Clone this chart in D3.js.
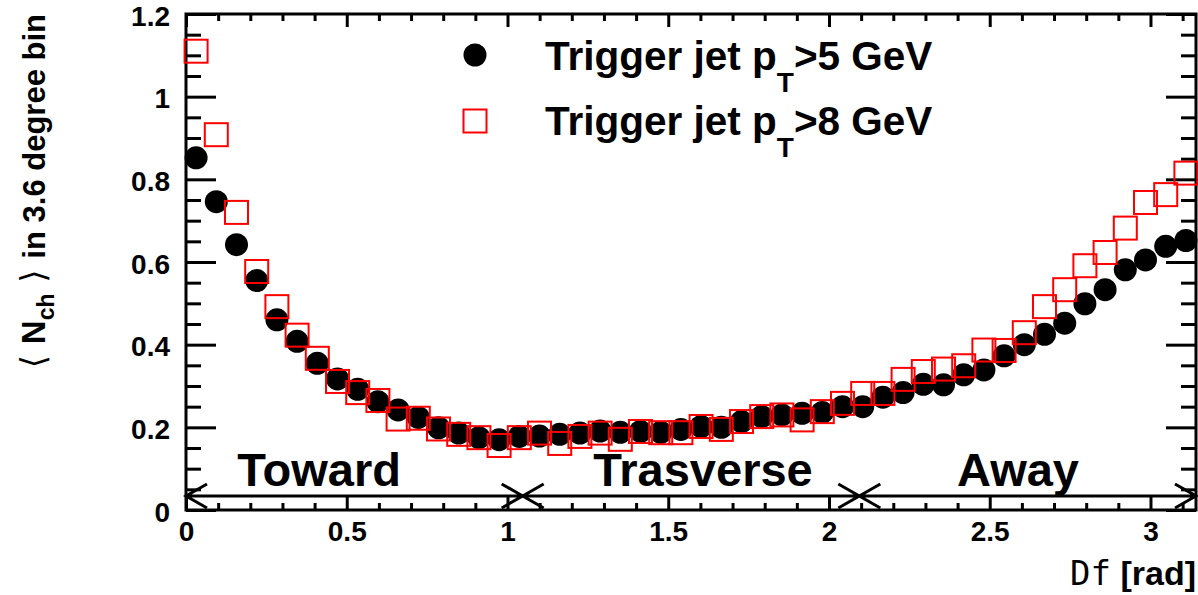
<!DOCTYPE html>
<html>
<head>
<meta charset="utf-8">
<script src="https://cdn.jsdelivr.net/npm/d3@7"></script>
<style>
  body { margin: 0; background: #fff; }
  text { font-family: "Liberation Sans", Arial, sans-serif; font-weight: bold; fill: #000; }
</style>
</head>
<body>
<div id="chart"></div>
<script>
// bin centres of the 3.6 degree bins, in degrees
const binDeg = [1.8, 5.4, 9, 12.6, 16.2, 19.8, 23.4, 27, 30.6, 34.2,
  37.8, 41.4, 45, 48.6, 52.2, 55.8, 59.4, 63, 66.6, 70.2,
  73.8, 77.4, 81, 84.6, 88.2, 91.8, 95.4, 99, 102.6, 106.2,
  109.8, 113.4, 117, 120.6, 124.2, 127.8, 131.4, 135, 138.6, 142.2,
  145.8, 149.4, 153, 156.6, 160.2, 163.8, 167.4, 171, 174.6, 178.2];

// <Nch>, trigger jet pT > 5 GeV (black circles)
const nch5 = [0.852, 0.746, 0.642, 0.555, 0.460, 0.408, 0.355, 0.317, 0.292, 0.262,
  0.242, 0.224, 0.199, 0.186, 0.175, 0.170, 0.178, 0.179, 0.183, 0.186,
  0.191, 0.188, 0.190, 0.188, 0.195, 0.202, 0.200, 0.214, 0.226, 0.230,
  0.234, 0.236, 0.250, 0.250, 0.273, 0.284, 0.304, 0.303, 0.327, 0.339,
  0.373, 0.400, 0.425, 0.452, 0.499, 0.533, 0.581, 0.605, 0.638, 0.652];

// <Nch>, trigger jet pT > 8 GeV (red open squares)
const nch8 = [1.110, 0.908, 0.720, 0.577, 0.492, 0.423, 0.367, 0.311, 0.284, 0.265,
  0.220, 0.222, 0.196, 0.183, 0.175, 0.156, 0.175, 0.186, 0.161, 0.178,
  0.186, 0.171, 0.190, 0.187, 0.187, 0.202, 0.195, 0.214, 0.226, 0.230,
  0.218, 0.238, 0.258, 0.282, 0.282, 0.316, 0.335, 0.341, 0.349, 0.387,
  0.386, 0.429, 0.492, 0.533, 0.591, 0.623, 0.682, 0.744, 0.763, 0.815];

const xTicks = [0, 0.5, 1, 1.5, 2, 2.5, 3];
const yTicks = [0, 0.2, 0.4, 0.6, 0.8, 1, 1.2];

const regionEdges = [0, Math.PI / 3, 2 * Math.PI / 3, Math.PI];
const regionNames = ["Toward", "Trasverse", "Away"];
const regionLabelX = [0.414, 1.608, 2.588];
const arrowY = 0.034, regionLabelY = 0.058;

const W = 1198, H = 595;
const svg = d3.select("#chart").append("svg").attr("width", W).attr("height", H);

const x = d3.scaleLinear().domain([0, Math.PI]).range([186, 1196]);
const y = d3.scaleLinear().domain([0, 1.2]).range([510, 14]);

const xMinor = d3.range(0, 3.15, 0.1).filter(v => Math.abs(v * 2 - Math.round(v * 2)) > 1e-6);
const yMinor = d3.range(0, 1.2001, 0.05).filter(v => Math.abs(v * 5 - Math.round(v * 5)) > 1e-6);

function styleAxis(g) {
  g.select(".domain").remove();
  g.selectAll("line").attr("stroke", "#000").attr("stroke-width", 3);
  g.selectAll("text").style("font-size", "28px").attr("fill", "#000");
}

// bottom
svg.append("g").attr("transform", `translate(0,${y(0)})`)
  .call(d3.axisBottom(x).tickValues(xTicks).tickSize(-13).tickPadding(11).tickFormat(d3.format("")))
  .call(styleAxis);
svg.append("g").attr("transform", `translate(0,${y(0)})`)
  .call(d3.axisBottom(x).tickValues(xMinor).tickSize(-7).tickFormat(""))
  .call(styleAxis);
// top
svg.append("g").attr("transform", `translate(0,${y(1.2)})`)
  .call(d3.axisTop(x).tickValues(xTicks).tickSize(-13).tickFormat(""))
  .call(styleAxis);
svg.append("g").attr("transform", `translate(0,${y(1.2)})`)
  .call(d3.axisTop(x).tickValues(xMinor).tickSize(-7).tickFormat(""))
  .call(styleAxis);
// left
svg.append("g").attr("transform", `translate(${x(0)},0)`)
  .call(d3.axisLeft(y).tickValues(yTicks).tickSize(-30).tickPadding(16).tickFormat(d3.format("")))
  .call(styleAxis)
  .call(g => g.selectAll("text").attr("dy", "0.4em"));
svg.append("g").attr("transform", `translate(${x(0)},0)`)
  .call(d3.axisLeft(y).tickValues(yMinor).tickSize(-15).tickFormat(""))
  .call(styleAxis);
// right
svg.append("g").attr("transform", `translate(${x(Math.PI)},0)`)
  .call(d3.axisRight(y).tickValues(yTicks).tickSize(-30).tickFormat(""))
  .call(styleAxis);
svg.append("g").attr("transform", `translate(${x(Math.PI)},0)`)
  .call(d3.axisRight(y).tickValues(yMinor).tickSize(-15).tickFormat(""))
  .call(styleAxis);

// frame
svg.append("rect")
  .attr("x", x(0)).attr("y", y(1.2))
  .attr("width", x(Math.PI) - x(0)).attr("height", y(0) - y(1.2))
  .attr("fill", "none").attr("stroke", "#000").attr("stroke-width", 3);

// region arrows
const ya = y(arrowY);
d3.range(3).forEach(i => {
  const a = x(regionEdges[i]), b = x(regionEdges[i + 1]);
  svg.append("path")
    .attr("d", `M${a},${ya}L${b},${ya}` +
      `M${a + 21},${ya - 12}L${a},${ya}L${a + 21},${ya + 12}` +
      `M${b - 21},${ya - 12}L${b},${ya}L${b - 21},${ya + 12}`)
    .attr("fill", "none").attr("stroke", "#000").attr("stroke-width", 3);
});
svg.selectAll(".region").data(regionNames).enter().append("text")
  .attr("class", "region")
  .attr("x", (d, i) => x(regionLabelX[i]))
  .attr("y", y(regionLabelY))
  .attr("text-anchor", "middle")
  .style("font-size", "47px")
  .text(d => d);

// data
const pts = binDeg.map((d, i) => ({ phi: d * Math.PI / 180, a: nch5[i], b: nch8[i] }));

svg.append("g").selectAll("circle").data(pts).enter().append("circle")
  .attr("cx", d => x(d.phi)).attr("cy", d => y(d.a)).attr("r", 11.5)
  .attr("fill", "#000");

const s = 23;
svg.append("g").selectAll("rect").data(pts).enter().append("rect")
  .attr("x", d => x(d.phi) - s / 2).attr("y", d => y(d.b) - s / 2)
  .attr("width", s).attr("height", s)
  .attr("fill", "none").attr("stroke", "#ff0000").attr("stroke-width", 2);

// legend
const leg = svg.append("g");
leg.append("circle").attr("cx", 475).attr("cy", 55).attr("r", 11.5).attr("fill", "#000");
leg.append("rect").attr("x", 475 - s / 2).attr("y", 121 - s / 2).attr("width", s).attr("height", s)
  .attr("fill", "none").attr("stroke", "#ff0000").attr("stroke-width", 2);
[["5", 70], ["8", 135]].forEach(([v, yy]) => {
  const t = leg.append("text").attr("x", 545).attr("y", yy).style("font-size", "40.5px");
  t.append("tspan").text("Trigger jet p");
  t.append("tspan").attr("dy", 22).style("font-size", "28px").text("T");
  t.append("tspan").attr("dy", -22).text(`>${v} GeV`);
});

// y title
const yt = svg.append("text")
  .attr("transform", "translate(45,14) rotate(-90)")
  .attr("text-anchor", "end")
  .style("font-size", "31px");
yt.append("tspan").style("font-family", "DejaVu Sans").style("font-weight", "normal").style("font-size", "34px").text("\u27E8 ");
yt.append("tspan").style("font-size", "33px").text("N");
yt.append("tspan").attr("dy", 9).style("font-size", "23px").text("ch");
yt.append("tspan").attr("dy", -9).style("font-family", "DejaVu Sans").style("font-weight", "normal").style("font-size", "34px").text(" \u27E9 ");
yt.append("tspan").text("in 3.6 degree bin");

// x title
const xt = svg.append("text")
  .attr("x", 1196).attr("y", 585)
  .attr("text-anchor", "end")
  .style("font-size", "34px");
xt.append("tspan").style("font-family", "DejaVu Sans Mono").style("font-weight", "normal").text("Df");
xt.append("tspan").text(" [rad]");
</script>
</body>
</html>
